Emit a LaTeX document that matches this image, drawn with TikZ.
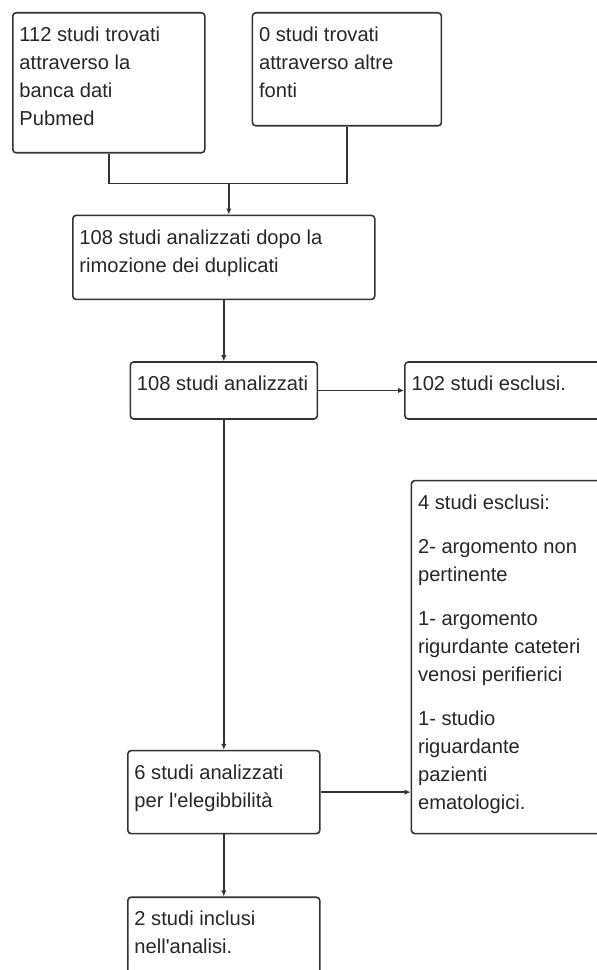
\documentclass[tikz,border=0pt]{standalone}
\usepackage{fontspec}
\setmainfont{Liberation Sans}
\usetikzlibrary{positioning,calc,arrows.meta}

% box text: inner width, box height, lines
\newcommand{\boxlines}[3]{\parbox[t][#2][t]{#1}{\raggedright\rule{0pt}{21.5pt}#3}}

\begin{document}
\begin{tikzpicture}[stepbox/.style={draw=black!80, line width=1.2pt, rounded corners=2.5pt, inner xsep=5pt, inner ysep=0pt, text=black!85, font=\fontsize{15.1}{21}\selectfont},
                    link/.style={draw=black!80, line width=1.2pt, -{Latex[length=4.5pt,width=4pt]}},
                    plain/.style={draw=black!80, line width=1.2pt},]
    \useasboundingbox (0,0) rectangle (447pt,-727.5pt);
    % nodes
    \node[stepbox, anchor=north west] (A) at (9pt,-9pt) {\boxlines{134pt}{105pt}{112 studi trovati\\attraverso la\\banca dati\\Pubmed}};
    \node[stepbox] (B) [right=34.5pt of A.north east, anchor=north west] {\boxlines{131.75pt}{84.75pt}{0 studi trovati\\attraverso altre\\fonti}};
    \node[stepbox] (C) [below right=45.75pt and 45pt of A.south west] {\boxlines{216.5pt}{63pt}{108 studi analizzati dopo la\\rimozione dei duplicati}};
    \node[stepbox] (D) [below=45.75pt of C] {\boxlines{130.25pt}{42.75pt}{108 studi analizzati}};
    \node[stepbox] (E) [right=64.5pt of D] {\boxlines{152.75pt}{42.75pt}{102 studi esclusi.}};
    \node[stepbox] (G) [below=247.5pt of D] {\boxlines{134pt}{62.25pt}{6 studi analizzati\\per l\textquotesingle elegibbilità}};
    \node[stepbox] (F) [right=67.5pt of G.south east, anchor=south west] {\boxlines{145.25pt}{264.75pt}{4 studi esclusi:\\[12pt]2- argomento non\\pertinente\\[12pt]1- argomento\\rigurdante cateteri\\venosi perifierici\\[12pt]1- studio\\riguardante\\pazienti\\ematologici.}};
    \node[stepbox] (H) [below=46.5pt of G] {\boxlines{134pt}{82.5pt}{2 studi inclusi\\nell\textquotesingle analisi.}};
    \coordinate (join) at ($(A.south -| C.north)+(3.75pt,-22.5pt)$);
    % lines
    \draw[plain] (A.south) |- (join) -| (B.south);
    \draw[link] (join) -- (join |- C.north);
    \draw[link] (C.south) -- (D.north);
    \draw[link] (D.east) -- (E.west);
    \draw[link] (D.south) -- (G.north);
    \draw[link] (G.east) -- (G.east -| F.west);
    \draw[link] (G.south) -- (H.north);
\end{tikzpicture}
\end{document}
